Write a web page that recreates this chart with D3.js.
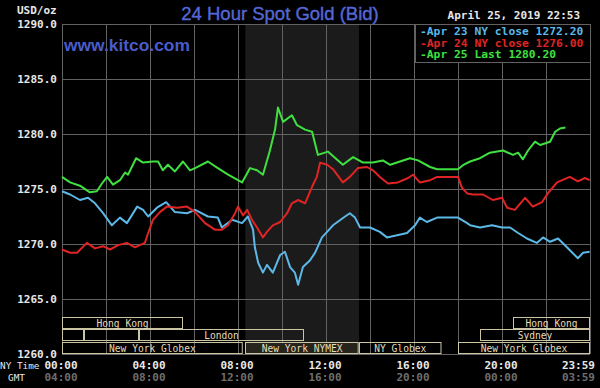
<!DOCTYPE html>
<html>
<head>
<meta charset="utf-8">
<script src="https://cdn.jsdelivr.net/npm/d3@7"></script>
<style>
  body { margin: 0; background: #000; }
</style>
</head>
<body>
<div id="container"></div>
<script>
// Apr 23 NY close series (blue), Apr 24 (red), Apr 25 (green) - NY time, USD/oz
const apr23 = [
  ["00:00",1274.8],["00:22",1274.5],["00:49",1274.0],["01:11",1274.2],["01:30",1273.7],["01:52",1272.8],
  ["02:16",1271.7],["02:38",1272.4],["02:57",1271.9],["03:25",1273.4],["03:41",1273.1],["03:55",1272.5],
  ["04:19",1273.3],["04:44",1273.8],["05:08",1272.9],["05:41",1272.8],["06:03",1273.1],["06:38",1272.5],
  ["07:05",1272.4],["07:16",1271.5],["07:44",1272.2],["08:11",1271.9],["08:27",1272.5],["08:41",1271.3],
  ["08:46",1269.7],["08:55",1268.3],["09:08",1267.4],["09:19",1268.1],["09:35",1267.4],["09:55",1269.0],
  ["10:08",1269.3],["10:22",1267.9],["10:35",1267.4],["10:44",1266.3],["10:57",1267.9],["11:16",1268.5],
  ["11:30",1269.2],["11:49",1270.6],["12:03",1271.1],["12:19",1271.7],["12:52",1272.5],["13:05",1272.8],
  ["13:19",1272.4],["13:33",1271.5],["14:00",1271.5],["14:27",1271.1],["14:46",1270.6],["15:14",1270.8],
  ["15:41",1271.0],["16:03",1271.7],["16:16",1272.4],["16:35",1272.0],["17:03",1272.4],["18:00",1272.4],
  ["18:25",1271.9],["18:33",1271.7],["19:00",1271.5],["19:33",1271.7],["20:00",1271.5],["20:22",1271.5],
  ["20:44",1271.0],["21:08",1270.5],["21:35",1270.1],["21:52",1270.6],["22:11",1270.2],["22:33",1270.5],
  ["22:57",1269.7],["23:27",1268.7],["23:41",1269.2],["23:59",1269.3]
];
const apr24 = [
  ["00:00",1269.5],["00:22",1269.2],["00:41",1269.2],["01:08",1270.1],["01:30",1269.6],["01:52",1269.8],
  ["02:11",1269.5],["02:33",1269.9],["02:57",1270.1],["03:19",1269.7],["03:46",1270.1],["03:55",1271.0],
  ["04:08",1272.2],["04:27",1272.9],["04:46",1273.4],["05:14",1273.3],["05:41",1273.4],["06:03",1272.9],
  ["06:30",1271.9],["06:57",1271.3],["07:16",1271.3],["07:33",1271.7],["07:52",1272.8],["08:00",1273.4],
  ["08:14",1272.6],["08:25",1273.1],["08:38",1272.2],["08:52",1271.5],["09:08",1270.6],["09:19",1271.1],
  ["09:35",1271.7],["09:55",1272.0],["10:14",1272.8],["10:27",1273.7],["10:44",1274.0],["11:03",1273.7],
  ["11:22",1275.2],["11:35",1276.1],["11:44",1277.4],["12:03",1277.2],["12:19",1276.8],["12:46",1275.6],
  ["13:05",1276.1],["13:27",1276.9],["13:52",1277.0],["14:08",1276.7],["14:27",1276.1],["14:49",1275.5],
  ["15:16",1275.6],["15:44",1276.0],["15:57",1276.3],["16:16",1275.6],["16:44",1275.8],["17:03",1276.1],
  ["18:00",1276.1],["18:11",1275.1],["18:25",1274.6],["18:41",1274.5],["19:08",1274.5],["19:35",1274.0],
  ["20:00",1274.2],["20:14",1273.3],["20:35",1273.1],["21:03",1274.2],["21:24",1273.4],["21:49",1273.8],
  ["22:05",1274.6],["22:30",1275.6],["23:05",1276.1],["23:27",1275.7],["23:46",1276.0],["23:59",1275.8]
];
const apr25 = [
  ["00:00",1276.1],["00:22",1275.6],["00:49",1275.3],["01:16",1274.7],["01:35",1274.8],["01:49",1275.5],
  ["02:03",1276.1],["02:19",1275.4],["02:38",1275.8],["02:52",1276.5],["03:00",1276.3],["03:22",1277.8],
  ["03:41",1277.4],["04:08",1277.5],["04:22",1277.5],["04:35",1276.7],["04:49",1277.2],["05:08",1276.6],
  ["05:30",1277.5],["05:49",1276.7],["06:03",1276.9],["06:38",1277.5],["07:05",1276.9],["07:33",1276.3],
  ["08:11",1275.6],["08:33",1276.9],["08:52",1276.7],["09:08",1276.3],["09:27",1278.5],["09:41",1280.4],
  ["09:49",1282.4],["10:03",1281.1],["10:27",1281.7],["10:41",1280.8],["11:03",1280.4],["11:22",1280.2],
  ["11:38",1278.1],["12:05",1278.4],["12:46",1277.2],["13:14",1277.9],["13:41",1277.4],["14:08",1277.4],
  ["14:35",1277.6],["14:55",1277.2],["15:22",1277.5],["15:49",1277.8],["16:11",1277.6],["16:44",1277.0],
  ["17:03",1276.8],["18:00",1276.8],["18:15",1277.2],["18:33",1277.5],["19:00",1277.8],["19:27",1278.3],
  ["20:03",1278.5],["20:30",1278.1],["20:44",1278.3],["20:57",1277.7],["21:11",1278.5],["21:30",1279.3],
  ["21:44",1279.0],["22:11",1279.3],["22:25",1280.2],["22:38",1280.5],["22:53",1280.6]
];

const seriesNames = ["Apr 23 NY close 1272.20", "Apr 24 NY close 1276.00", "Apr 25 Last 1280.20"];
const seriesColors = ["#5cb8e6", "#e02424", "#3fe03f"];
const yTicks = [1260, 1265, 1270, 1275, 1280, 1285, 1290];
const nyLabels = ["00:00", "04:00", "08:00", "12:00", "16:00", "20:00", "23:59"];
const gmtLabels = ["04:00", "08:00", "12:00", "16:00", "20:00", "00:00", "03:59"];

// trading sessions: [label, start, end, row]
const sessions = [
  ["Hong Kong", "00:00", "05:30", 0],
  ["Hong Kong", "20:30", "24:00", 0],
  ["", "00:00", "01:00", 1],
  ["", "01:00", "03:30", 1],
  ["London", "03:30", "11:00", 1],
  ["Sydney", "19:00", "24:00", 1],
  ["New York Globex", "00:00", "08:13", 2],
  ["New York NYMEX", "08:20", "13:30", 2],
  ["NY Globex", "13:30", "17:15", 2],
  ["New York Globex", "18:00", "24:00", 2]
];
const nymexSession = ["08:20", "13:30"];

const width = 600, height = 388;
const marginTop = 24, marginRight = 10, marginBottom = 34, marginLeft = 62;

const day0 = new Date(2019, 3, 25);
const parseTime = s => {
  const [h, m] = s.split(":").map(Number);
  return new Date(2019, 3, 25, h, m);
};

const x = d3.scaleTime()
    .domain([day0, d3.timeDay.offset(day0, 1)])
    .range([marginLeft, width - marginRight]);
const y = d3.scaleLinear()
    .domain([1260, 1290])
    .range([height - marginBottom, marginTop]);

const mono = "'DejaVu Sans Mono', 'Liberation Mono', monospace";

const svg = d3.create("svg")
    .attr("width", width)
    .attr("height", height)
    .attr("viewBox", [0, 0, width, height])
    .style("background", "#000");

// NYMEX shaded hours
svg.append("rect")
    .attr("x", x(parseTime(nymexSession[0])))
    .attr("width", x(parseTime(nymexSession[1])) - x(parseTime(nymexSession[0])))
    .attr("y", marginTop)
    .attr("height", height - marginBottom - marginTop)
    .attr("fill", "#1b1b1b");

// grid
const grid = svg.append("g").attr("stroke", "#626262").attr("stroke-width", 1);
grid.selectAll("line.h")
  .data(yTicks)
  .join("line")
    .attr("x1", marginLeft).attr("x2", width - marginRight)
    .attr("y1", d => Math.round(y(d)) + 0.5).attr("y2", d => Math.round(y(d)) + 0.5);
grid.selectAll("line.v")
  .data(d3.timeHour.every(2).range(day0, d3.timeHour.offset(day0, 25)))
  .join("line")
    .attr("x1", d => Math.round(x(d)) + 0.5).attr("x2", d => Math.round(x(d)) + 0.5)
    .attr("y1", marginTop).attr("y2", height - marginBottom);

// legend box
const legendX = 415;
svg.append("rect")
    .attr("x", legendX + 0.5).attr("y", marginTop + 0.5)
    .attr("width", width - marginRight - legendX).attr("height", 38)
    .attr("fill", "#000").attr("stroke", "#626262");
svg.append("g")
  .selectAll("text")
  .data(seriesNames)
  .join("text")
    .attr("x", legendX + 5)
    .attr("y", (d, i) => 35 + i * 11.5)
    .attr("fill", (d, i) => seriesColors[i])
    .attr("font-family", mono).attr("font-weight", "bold").attr("font-size", 11.3)
    .text(d => "-" + d);

// lines
const line = d3.line()
    .x(d => x(parseTime(d[0])))
    .y(d => y(d[1]));
svg.append("g")
    .attr("fill", "none")
    .attr("stroke-width", 2)
    .attr("stroke-linejoin", "round")
  .selectAll("path")
  .data([apr23, apr24, apr25])
  .join("path")
    .attr("stroke", (d, i) => seriesColors[i])
    .attr("d", line);

// sessions
const rowTop = [317, 329, 342];
const sess = svg.append("g");
sess.selectAll("rect")
  .data(sessions)
  .join("rect")
    .attr("x", d => Math.round(x(parseTime(d[1]))) + 0.5)
    .attr("y", d => rowTop[d[3]] + 0.5)
    .attr("width", d => x(parseTime(d[2])) - x(parseTime(d[1])) - 1)
    .attr("height", 11)
    .attr("fill", d => d[0] === "New York NYMEX" ? "#26241b" : "none")
    .attr("stroke", "#cbc5a4");
sess.selectAll("text")
  .data(sessions)
  .join("text")
    .attr("x", d => (x(parseTime(d[1])) + x(parseTime(d[2]))) / 2)
    .attr("y", d => rowTop[d[3]] + 10)
    .attr("text-anchor", "middle")
    .attr("fill", "#e4dcba")
    .attr("font-family", mono).attr("font-size", 9.6)
    .text(d => d[0]);

// y labels
svg.append("g")
  .selectAll("text")
  .data(yTicks)
  .join("text")
    .attr("x", 57)
    .attr("y", d => y(d) + 3.5)
    .attr("text-anchor", "end")
    .attr("fill", "#e8e8e8")
    .attr("font-family", mono).attr("font-weight", "bold").attr("font-size", 11)
    .text(d => d.toFixed(1));
svg.append("text")
    .attr("x", 17).attr("y", 14)
    .attr("fill", "#e8e8e8")
    .attr("font-family", mono).attr("font-weight", "bold").attr("font-size", 11)
    .text("USD/oz");

// x labels
const tickHours = [0, 4, 8, 12, 16, 20, 24];
const xl = svg.append("g")
    .attr("font-family", mono).attr("font-weight", "bold").attr("font-size", 11);
xl.selectAll("text.ny")
  .data(nyLabels)
  .join("text")
    .attr("x", (d, i) => i === 6 ? x(d3.timeHour.offset(day0, 24)) + 5 : x(d3.timeHour.offset(day0, tickHours[i])) - 1)
    .attr("y", 368.5)
    .attr("text-anchor", (d, i) => i === 6 ? "end" : "middle")
    .attr("fill", "#e8e8e8")
    .text(d => d);
xl.selectAll("text.gmt")
  .data(gmtLabels)
  .join("text")
    .attr("x", (d, i) => i === 6 ? x(d3.timeHour.offset(day0, 24)) + 5 : x(d3.timeHour.offset(day0, tickHours[i])) - 1)
    .attr("y", 381)
    .attr("text-anchor", (d, i) => i === 6 ? "end" : "middle")
    .attr("fill", "#6e6e6e")
    .text(d => d);
svg.append("text")
    .attr("x", 0).attr("y", 368.5)
    .attr("fill", "#e8e8e8").attr("font-family", mono).attr("font-size", 9.4)
    .text("NY Time");
svg.append("text")
    .attr("x", 8).attr("y", 381)
    .attr("fill", "#e8e8e8").attr("font-family", mono).attr("font-size", 9.4)
    .text("GMT");

// titles
svg.append("text")
    .attr("x", 280).attr("y", 20)
    .attr("text-anchor", "middle")
    .attr("fill", "#5567d6")
    .attr("font-family", "'Liberation Sans', Arial, sans-serif").attr("font-size", 18.5)
    .attr("stroke", "#5567d6").attr("stroke-width", 0.4)
    .text("24 Hour Spot Gold (Bid)");
svg.append("text")
    .attr("x", 64).attr("y", 51)
    .attr("fill", "#4a5ccc")
    .attr("font-family", "'Liberation Sans', Arial, sans-serif").attr("font-weight", "bold").attr("font-size", 17.4)
    .text("www.kitco.com");
svg.append("text")
    .attr("x", 580).attr("y", 19)
    .attr("text-anchor", "end")
    .attr("fill", "#e8e8e8")
    .attr("font-family", mono).attr("font-weight", "bold").attr("font-size", 11)
    .text("April 25, 2019 22:53");

document.getElementById("container").append(svg.node());
</script>
</body>
</html>
